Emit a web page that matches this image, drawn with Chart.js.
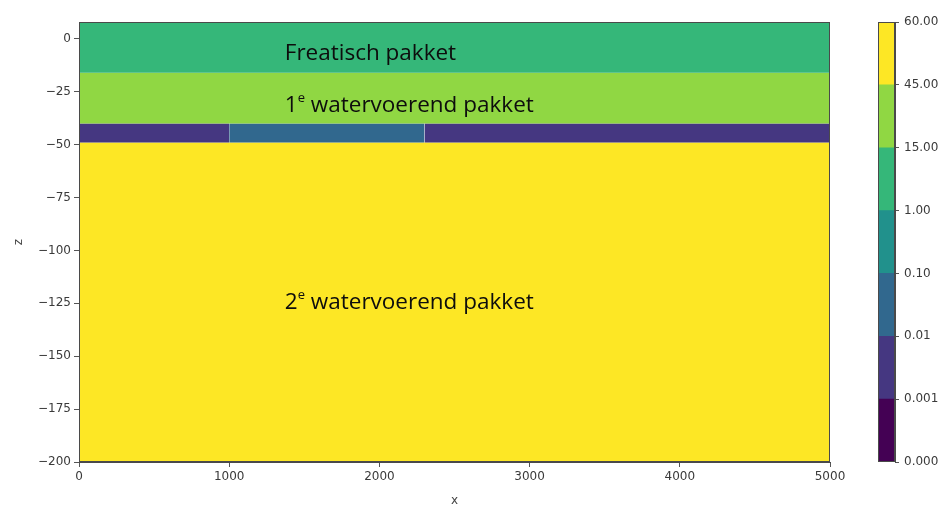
<!DOCTYPE html>
<html>
<head>
<meta charset="utf-8">
<script src="https://cdn.jsdelivr.net/npm/chart.js@4/dist/chart.umd.min.js"></script>
<style>
  body { margin: 0; background: #fff; }
  #wrap { position: relative; width: 947px; height: 508px; }
  #main { position: absolute; left: 0; top: 0; }
  #bar { position: absolute; left: 850px; top: 0; }
</style>
</head>
<body>
<div id="wrap">
  <canvas id="main" width="947" height="508"></canvas>
  <canvas id="bar" width="97" height="508"></canvas>
</div>
<script>
// layers of the cross-section (x in m, z in m, k value)
const layerNames = ["Freatisch pakket", "1e watervoerend pakket", "scheidende laag", "scheidende laag", "scheidende laag", "2e watervoerend pakket"];
const layerX0 = [0, 0, 0, 1000, 2300, 0];
const layerX1 = [5000, 5000, 1000, 2300, 5000, 5000];
const layerTop = [8, -16, -40, -40, -40, -49];
const layerBottom = [-16, -40, -49, -49, -49, -200];
const layerK = [10, 30, 0.005, 0.05, 0.005, 50];

// colorbar levels
const levels = [0, 0.001, 0.01, 0.1, 1, 15, 45, 60];
const levelLabels = ["0.000", "0.001", "0.01", "0.10", "1.00", "15.00", "45.00", "60.00"];
const levelColors = ["#440154", "#453781", "#31688e", "#21918c", "#35b779", "#90d743", "#fde725"];

const xTicks = [0, 1000, 2000, 3000, 4000, 5000];

// text written in the layers
const labels = [
  { main: "Freatisch pakket", x: 1370, z: -7 },
  { pre: "1", sup: "e", main: " watervoerend pakket", x: 1370, z: -31.5 },
  { pre: "2", sup: "e", main: " watervoerend pakket", x: 1370, z: -124.5 },
];

function colorFor(k) {
  for (let i = 0; i < levelColors.length; i++) {
    if (k >= levels[i] && k < levels[i + 1]) return levelColors[i];
  }
  return levelColors[levelColors.length - 1];
}

const minus = (v) => String(v).replace("-", "\u2212");
const tickFont = { family: "DejaVu Sans", size: 12 };
const tickColor = "#3a3a3a";

const frame = {
  id: "frame",
  afterDatasetsDraw(chart) {
    const { ctx, chartArea: a } = chart;
    ctx.save();
    ctx.strokeStyle = "#4a4a4a";
    ctx.lineWidth = 1;
    ctx.strokeRect(a.left + 0.5, a.top + 0.5, a.right - a.left - 1, a.bottom - a.top - 1);
    ctx.restore();
  },
};

const layerText = {
  id: "layerText",
  afterDraw(chart) {
    const { ctx, scales } = chart;
    ctx.save();
    ctx.fillStyle = "#0d0d0d";
    ctx.textBaseline = "middle";
    const big = "22.5px 'Open Sans'";
    labels.forEach((l) => {
      let x = scales.x.getPixelForValue(l.x);
      const y = scales.y.getPixelForValue(l.z);
      ctx.font = big;
      if (l.pre) {
        ctx.fillText(l.pre, x, y);
        x += ctx.measureText(l.pre).width;
        ctx.font = "13px 'Open Sans'";
        ctx.fillText(l.sup, x, y - 7);
        x += ctx.measureText(l.sup).width;
        ctx.font = big;
      }
      ctx.fillText(l.main, x, y);
    });
    ctx.restore();
  },
};

new Chart(document.getElementById("main"), {
  type: "line",
  data: {
    datasets: layerNames.map((name, i) => ({
      label: name,
      data: [
        { x: layerX0[i], y: layerTop[i] },
        { x: layerX1[i], y: layerTop[i] },
      ],
      backgroundColor: colorFor(layerK[i]),
      borderColor: colorFor(layerK[i]),
      borderWidth: 0,
      pointRadius: 0,
      fill: { value: layerBottom[i] },
    })),
  },
  options: {
    responsive: false,
    animation: false,
    layout: { padding: { top: 22, right: 117, left: 12, bottom: 0 } },
    plugins: { legend: { display: false }, tooltip: { enabled: false } },
    scales: {
      x: {
        type: "linear",
        min: 0,
        max: 5000,
        afterBuildTicks: (s) => { s.ticks = xTicks.map((v) => ({ value: v })); },
        afterFit: (s) => { s.height = 46; },
        ticks: { font: tickFont, color: tickColor, padding: 3, maxRotation: 0, callback: (v) => String(v) },
        grid: { drawOnChartArea: false, tickLength: 5, color: "#555" },
        border: { color: "#4a4a4a" },
        title: { display: true, text: "x", font: { family: "DejaVu Sans", size: 12 }, color: "#444", padding: { top: 2, bottom: 0 } },
      },
      y: {
        type: "linear",
        min: -200,
        max: 8,
        afterBuildTicks: (s) => { s.ticks = s.ticks.filter((t) => t.value % 25 === 0); },
        afterFit: (s) => { s.width = 67; },
        ticks: { stepSize: 25, font: tickFont, color: tickColor, padding: 3, callback: (v) => minus(v) },
        grid: { drawOnChartArea: false, tickLength: 5, color: "#555" },
        border: { color: "#4a4a4a" },
        title: { display: true, text: "z", font: { family: "DejaVu Sans", size: 12 }, color: "#444", padding: { top: 0, bottom: 4 } },
      },
    },
  },
  plugins: [frame, layerText],
});

// colorbar
new Chart(document.getElementById("bar"), {
  type: "bar",
  data: {
    labels: [""],
    datasets: levelColors.map((c, i) => ({
      label: levelLabels[i],
      data: [1],
      backgroundColor: c,
      borderWidth: 0,
      categoryPercentage: 1,
      barPercentage: 1,
    })),
  },
  options: {
    responsive: false,
    animation: false,
    layout: { padding: { top: 22, bottom: 46, left: 28, right: 0 } },
    plugins: { legend: { display: false }, tooltip: { enabled: false } },
    scales: {
      x: { stacked: true, display: false },
      y: {
        stacked: true,
        position: "right",
        min: 0,
        max: levelColors.length,
        afterBuildTicks: (s) => { s.ticks = levels.map((_, i) => ({ value: i })); },
        afterFit: (s) => { s.width = 52; },
        ticks: { font: tickFont, color: tickColor, padding: 5, callback: (v) => levelLabels[v] },
        grid: { drawOnChartArea: false, tickLength: 4, color: "#555" },
        border: { color: "#4a4a4a" },
      },
    },
  },
  plugins: [frame],
});
</script>
</body>
</html>
